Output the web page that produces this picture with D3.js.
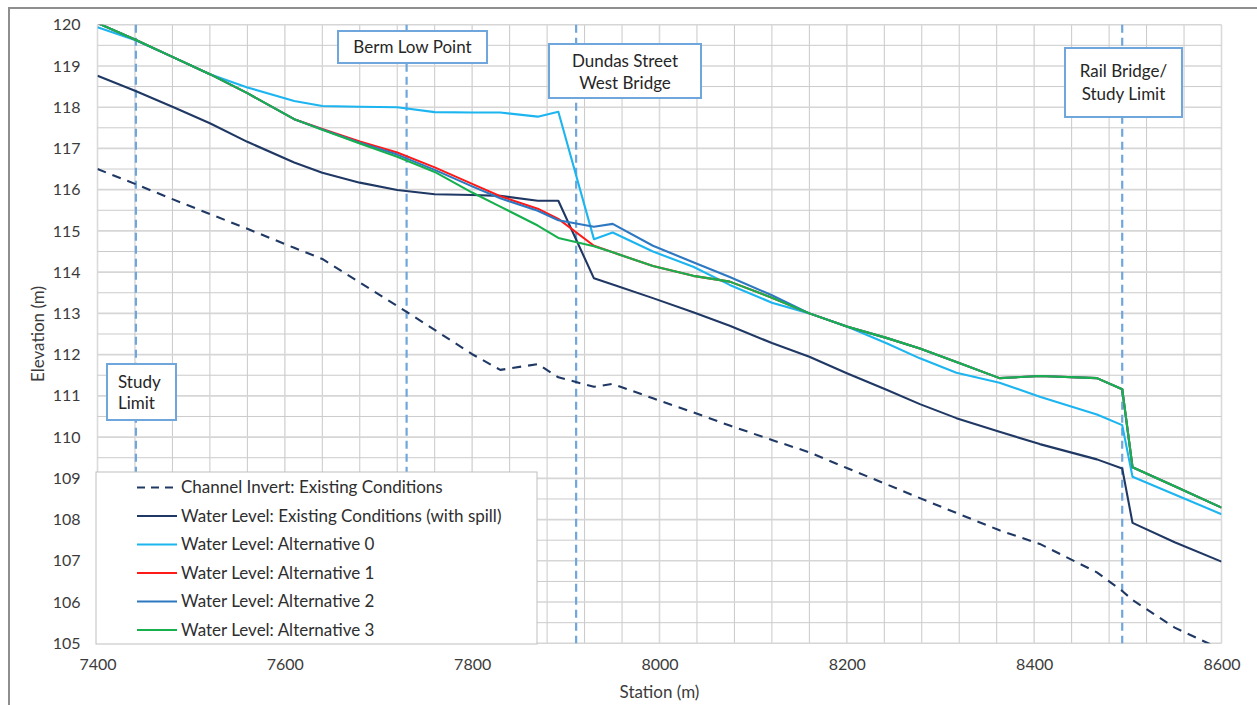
<!DOCTYPE html>
<html>
<head>
<meta charset="utf-8">
<script src="https://cdn.jsdelivr.net/npm/d3@7"></script>
<style>
  html, body { margin: 0; padding: 0; background: #ffffff; }
  svg { display: block; font-family: Lato, "Open Sans", sans-serif; }
</style>
</head>
<body>
<svg id="chart" width="1257" height="705"></svg>
<script>
// Stations along the channel (m)
const stations = [7400, 7440, 7480, 7520, 7560, 7610, 7640, 7680, 7720, 7760, 7800, 7830,
  7870, 7892, 7930, 7950, 7993, 8036, 8075, 8120, 8160, 8200, 8243, 8278, 8317, 8363,
  8406, 8467, 8494, 8505, 8550, 8600];

// Elevations (m) at each station
const invertExisting = [116.50, 116.14, 115.77, 115.41, 115.05, 114.59, 114.32, 113.75, 113.18, 112.60, 112.01, 111.63,
  111.77, 111.45, 111.22, 111.29, 110.94, 110.60, 110.28, 109.93, 109.63, 109.25, 108.85, 108.52, 108.16, 107.74,
  107.41, 106.72, 106.27, 106.05, 105.38, 104.85];
const wlExisting = [118.76, 118.40, 118.01, 117.61, 117.16, 116.66, 116.41, 116.17, 115.99, 115.89, 115.87, 115.85,
  115.73, 115.73, 113.85, 113.70, 113.37, 113.03, 112.70, 112.28, 111.95, 111.55, 111.14, 110.80, 110.46, 110.13,
  109.83, 109.46, 109.24, 107.92, 107.45, 106.98];
const wlAlt0 = [119.94, 119.63, 119.22, 118.80, 118.48, 118.15, 118.03, 118.01, 118.00, 117.88, 117.87, 117.87,
  117.77, 117.89, 114.80, 114.96, 114.50, 114.13, 113.69, 113.26, 113.00, 112.68, 112.27, 111.91, 111.56, 111.32,
  110.98, 110.55, 110.29, 109.04, 108.61, 108.13];
const wlAlt1 = [120.04, 119.64, 119.22, 118.80, 118.34, 117.71, 117.47, 117.17, 116.90, 116.54, 116.14, 115.84,
  115.54, 115.29, 114.64, 114.48, 114.15, 113.91, 113.77, 113.38, 113.00, 112.68, 112.40, 112.15, 111.82, 111.43,
  111.48, 111.43, 111.16, 109.27, 108.81, 108.29];
const wlAlt2 = [120.04, 119.64, 119.22, 118.80, 118.34, 117.71, 117.46, 117.14, 116.85, 116.48, 116.08, 115.79,
  115.49, 115.26, 115.10, 115.17, 114.64, 114.24, 113.88, 113.44, 113.00, 112.68, 112.40, 112.15, 111.82, 111.43,
  111.48, 111.43, 111.16, 109.27, 108.81, 108.29];
const wlAlt3 = [120.04, 119.64, 119.22, 118.80, 118.34, 117.71, 117.45, 117.12, 116.80, 116.43, 115.93, 115.59,
  115.13, 114.83, 114.63, 114.48, 114.15, 113.91, 113.77, 113.38, 113.00, 112.68, 112.40, 112.15, 111.82, 111.43,
  111.48, 111.43, 111.16, 109.27, 108.81, 108.29];

const seriesNames = [
  "Channel Invert: Existing Conditions",
  "Water Level: Existing Conditions (with spill)",
  "Water Level: Alternative 0",
  "Water Level: Alternative 1",
  "Water Level: Alternative 2",
  "Water Level: Alternative 3"
];
const seriesColors = ["#203864", "#203864", "#1cb5f0", "#ff1a1a", "#2e78c2", "#18b04f"];

// Axis ticks
const xTicks = [7400, 7600, 7800, 8000, 8200, 8400, 8600];
const yTicks = [105, 106, 107, 108, 109, 110, 111, 112, 113, 114, 115, 116, 117, 118, 119, 120];

// Landmark stations and their callouts
const landmarkStations = [7441, 7730, 7911, 8494];
const landmarkLabels = [["Study", "Limit"], ["Berm Low Point"], ["Dundas Street", "West Bridge"], ["Rail Bridge/", "Study Limit"]];

// ---------------------------------------------------------------------------
const svg = d3.select("#chart");
const W = 1257, H = 705;
const plot = { left: 97.5, right: 1221.5, top: 24.7, bottom: 643.3 };
const textColor = "#3b3b3b";

const x = d3.scaleLinear().domain([7400, 8600]).range([plot.left, plot.right]);
const y = d3.scaleLinear().domain([105, 120]).range([plot.bottom, plot.top]);

// Chart area frame
svg.append("path")
  .attr("d", `M9,${H + 2} V8 H${W + 2}`)
  .attr("fill", "none").attr("stroke", "#8e8e8e").attr("stroke-width", 2);

// Gridlines
const grid = svg.append("g");
const minorX = d3.range(7400, 8601, 40);
const minorY = d3.range(105, 120.01, 0.5);
grid.selectAll("line.vx").data(minorX).join("line")
  .attr("x1", d => x(d)).attr("x2", d => x(d))
  .attr("y1", plot.top).attr("y2", plot.bottom)
  .attr("stroke", d => (d % 200 === 0) ? "#dadada" : "#c9c9c9")
  .attr("stroke-width", d => (d % 200 === 0) ? 1.6 : 1);
grid.selectAll("line.hy").data(minorY).join("line")
  .attr("x1", plot.left).attr("x2", plot.right)
  .attr("y1", d => y(d)).attr("y2", d => y(d))
  .attr("stroke", d => (d % 1 === 0) ? "#d6d6d6" : "#cbcbcb")
  .attr("stroke-width", d => (d % 1 === 0) ? 1.6 : 1);

// Axes (labels only)
const xAxis = svg.append("g")
  .attr("transform", `translate(0,${plot.bottom})`)
  .call(d3.axisBottom(x).tickValues(xTicks).tickSize(0).tickPadding(15).tickFormat(d3.format("d")));
const yAxis = svg.append("g")
  .attr("transform", `translate(${plot.left},0)`)
  .call(d3.axisLeft(y).tickValues(yTicks).tickSize(0).tickPadding(17).tickFormat(d3.format("d")));
[xAxis, yAxis].forEach(a => {
  a.select(".domain").remove();
  a.selectAll("text").attr("font-family", "Lato, sans-serif").attr("font-size", 16).attr("fill", textColor);
});

svg.append("text")
  .attr("transform", `translate(38,${(plot.top + plot.bottom) / 2}) rotate(-90)`)
  .attr("text-anchor", "middle").attr("dy", "0.35em")
  .attr("font-size", 17).attr("fill", textColor)
  .text("Elevation (m)");
svg.append("text")
  .attr("x", (plot.left + plot.right) / 2).attr("y", 692)
  .attr("text-anchor", "middle").attr("dy", "0.35em")
  .attr("font-size", 17).attr("fill", textColor)
  .text("Station (m)");

// Landmark dashed verticals
svg.append("g").selectAll("line").data(landmarkStations).join("line")
  .attr("x1", d => x(d)).attr("x2", d => x(d))
  .attr("y1", plot.top).attr("y2", plot.bottom)
  .attr("stroke", "#6fa6dc").attr("stroke-width", 2.2)
  .attr("stroke-dasharray", "8,5");

// Profiles
svg.append("defs").append("clipPath").attr("id", "plotClip")
  .append("rect").attr("x", plot.left).attr("y", plot.top)
  .attr("width", plot.right - plot.left).attr("height", plot.bottom - plot.top);

const seriesValues = [invertExisting, wlExisting, wlAlt0, wlAlt1, wlAlt2, wlAlt3];
const line = d3.line().x(d => x(d[0])).y(d => y(d[1]));
const lines = svg.append("g").attr("clip-path", "url(#plotClip)");
seriesValues.forEach((vals, i) => {
  lines.append("path")
    .datum(stations.map((s, j) => [s, vals[j]]))
    .attr("d", line)
    .attr("fill", "none")
    .attr("stroke", seriesColors[i])
    .attr("stroke-width", 2.1)
    .attr("stroke-linejoin", "round")
    .attr("stroke-dasharray", i === 0 ? "9,7" : null);
});

// Landmark callouts
const callouts = [
  { box: [338, 31, 149, 32], align: "middle", tx: 412.5, ty: [47] },
  { box: [549, 44, 152, 54], align: "middle", tx: 625, ty: [61, 83] },
  { box: [1065, 48, 117, 69], align: "middle", tx: 1123.5, ty: [71, 94] },
  { box: [107, 364, 69, 56], align: "start", tx: 118, ty: [382, 403] }
];
const calloutOrder = [1, 2, 3, 0];
const cg = svg.append("g");
calloutOrder.forEach((li, k) => {
  const c = callouts[k];
  cg.append("rect")
    .attr("x", c.box[0]).attr("y", c.box[1]).attr("width", c.box[2]).attr("height", c.box[3])
    .attr("fill", "#ffffff").attr("stroke", "#6fa6dc").attr("stroke-width", 2);
  landmarkLabels[li].forEach((t, r) => {
    cg.append("text")
      .attr("x", c.tx).attr("y", c.ty[r]).attr("dy", "0.35em")
      .attr("text-anchor", c.align)
      .attr("font-size", 17).attr("fill", "#262626")
      .text(t);
  });
});

// Legend
const lg = svg.append("g");
lg.append("rect").attr("x", 96).attr("y", 472).attr("width", 441).attr("height", 172)
  .attr("fill", "#ffffff").attr("stroke", "#bfbfbf").attr("stroke-width", 1);
const legendY = d3.scaleLinear().domain([0, 5]).range([487.5, 630]);
seriesNames.forEach((name, i) => {
  const yy = legendY(i);
  lg.append("line").attr("x1", 137).attr("x2", 177).attr("y1", yy).attr("y2", yy)
    .attr("stroke", seriesColors[i]).attr("stroke-width", 2.1)
    .attr("stroke-dasharray", i === 0 ? "8,6" : null);
  lg.append("text").attr("x", 181).attr("y", yy).attr("dy", "0.35em")
    .attr("font-size", 17).attr("fill", "#2e2e2e")
    .text(name);
});
</script>
</body>
</html>
